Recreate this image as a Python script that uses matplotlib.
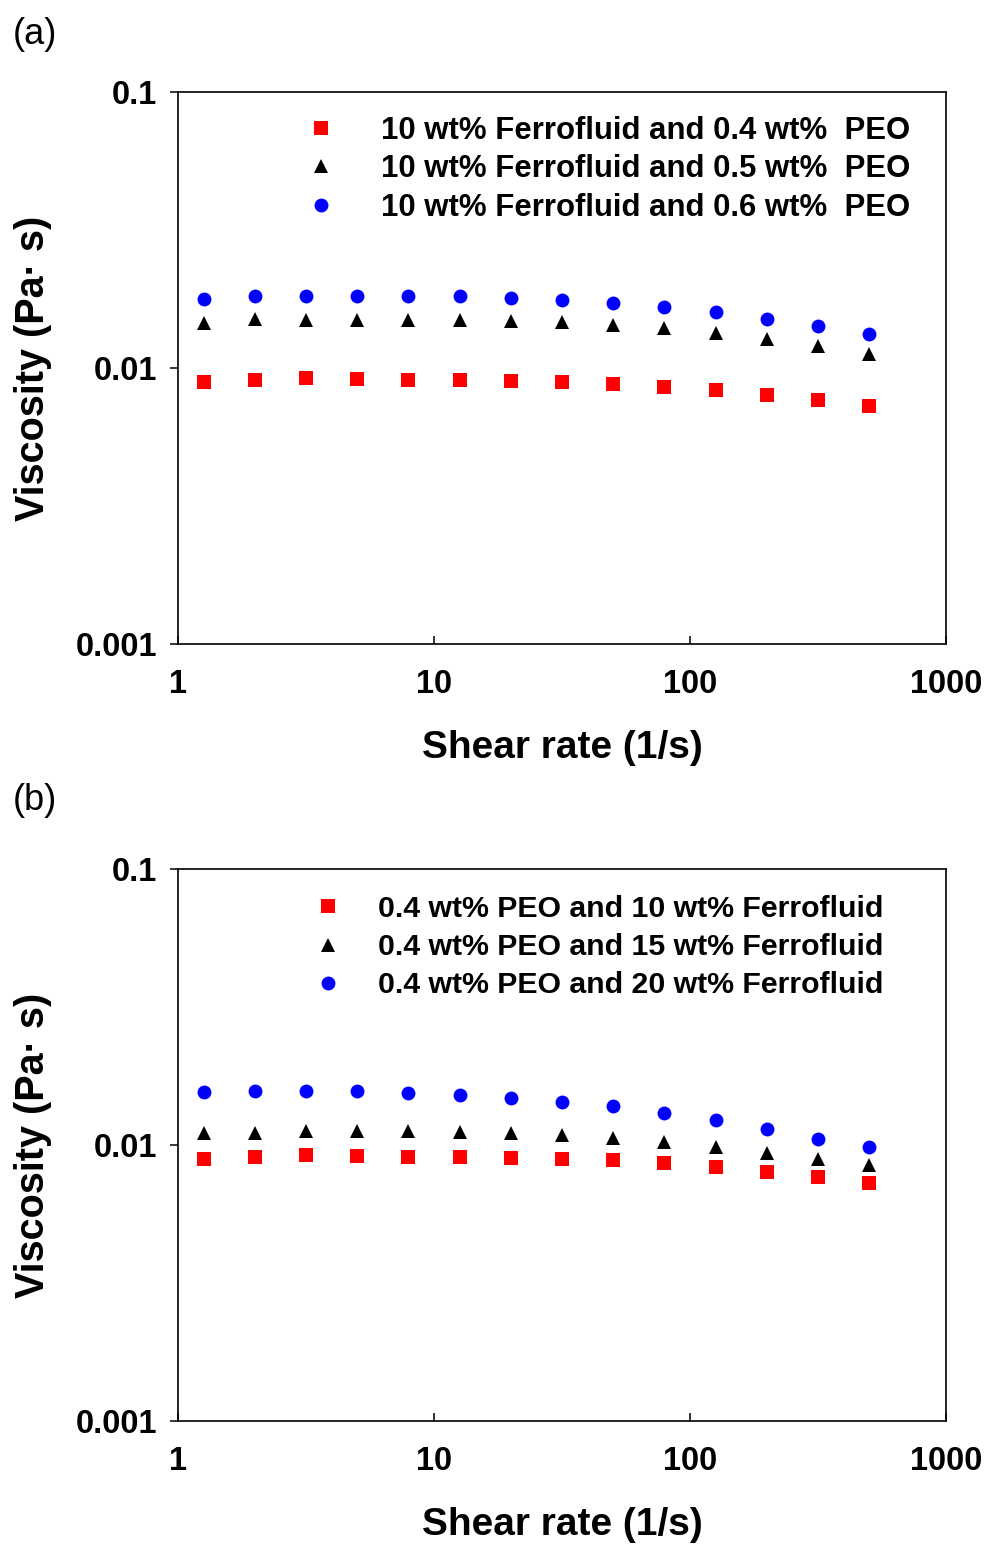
import matplotlib
matplotlib.use("Agg")
import matplotlib.pyplot as plt
from matplotlib.ticker import FixedLocator, FixedFormatter, NullLocator

# ── Data ──────────────────────────────────────────────────────────────────────

shear_rate = [1.26, 2.0, 3.16, 5.01, 7.94, 12.6, 20.0, 31.6, 50.1, 79.4, 126, 200, 316, 501]

# (a) 10 wt% ferrofluid, varying PEO
visc_a_peo04 = [0.00892, 0.00907, 0.00922, 0.00912, 0.00907, 0.00905, 0.00897,
                0.00892, 0.00877, 0.00856, 0.00830, 0.00798, 0.00766, 0.00730]
visc_a_peo05 = [0.01452, 0.01507, 0.01493, 0.01493, 0.01493, 0.01493, 0.01480,
                0.01464, 0.01435, 0.01396, 0.01339, 0.01274, 0.01202, 0.01127]
visc_a_peo06 = [0.01774, 0.01824, 0.01824, 0.01824, 0.01824, 0.01824, 0.01793,
                0.01764, 0.01724, 0.01668, 0.01595, 0.01505, 0.01420, 0.01325]
labels_a = ["10 wt% Ferrofluid and 0.4 wt%  PEO",
            "10 wt% Ferrofluid and 0.5 wt%  PEO",
            "10 wt% Ferrofluid and 0.6 wt%  PEO"]

# (b) 0.4 wt% PEO, varying ferrofluid
visc_b_ff10 = [0.00891, 0.00906, 0.00919, 0.00911, 0.00906, 0.00906, 0.00899,
               0.00891, 0.00879, 0.00857, 0.00831, 0.00797, 0.00767, 0.00729]
visc_b_ff15 = [0.01104, 0.01101, 0.01119, 0.01126, 0.01119, 0.01112, 0.01103,
               0.01084, 0.01058, 0.01021, 0.00979, 0.00934, 0.00888, 0.00844]
visc_b_ff20 = [0.01558, 0.01562, 0.01566, 0.01562, 0.01541, 0.01520, 0.01482,
               0.01434, 0.01379, 0.01308, 0.01234, 0.01145, 0.01053, 0.00979]
labels_b = ["0.4 wt% PEO and 10 wt% Ferrofluid",
            "0.4 wt% PEO and 15 wt% Ferrofluid",
            "0.4 wt% PEO and 20 wt% Ferrofluid"]

x_ticks = [1, 10, 100, 1000]
x_ticklabels = ["1", "10", "100", "1000"]
y_ticks = [0.001, 0.01, 0.1]
y_ticklabels = ["0.001", "0.01", "0.1"]

# ── Style ─────────────────────────────────────────────────────────────────────

plt.rcParams["font.family"] = ["Liberation Sans", "DejaVu Sans"]
plt.rcParams["font.weight"] = "bold"

MARKERS = [("s", "#ff0000", 9.5), ("^", "black", 10.5), ("o", "#0000ff", 10)]


def draw_panel(ax, series, labels, legend_pos, textpad, legend_size, spacing):
    for (m, c, ms), y, lab in zip(MARKERS, series, labels):
        ax.plot(shear_rate, y, linestyle="none", marker=m, color=c,
                markersize=ms, markeredgewidth=0, label=lab)
    ax.set_xscale("log")
    ax.set_yscale("log")
    ax.set_xlim(1, 1000)
    ax.set_ylim(0.001, 0.1)

    ax.xaxis.set_major_locator(FixedLocator(x_ticks))
    ax.xaxis.set_major_formatter(FixedFormatter(x_ticklabels))
    ax.yaxis.set_major_locator(FixedLocator(y_ticks))
    ax.yaxis.set_major_formatter(FixedFormatter(y_ticklabels))
    ax.xaxis.set_minor_locator(NullLocator())
    ax.yaxis.set_minor_locator(NullLocator())

    ax.tick_params(axis="x", direction="in", length=6, width=1.1,
                   pad=18, labelsize=23.5)
    ax.tick_params(axis="y", direction="out", length=6, width=1.1,
                   pad=9, labelsize=23.5)
    for lab in ax.get_xticklabels() + ax.get_yticklabels():
        lab.set_fontweight("bold")
    for sp in ax.spines.values():
        sp.set_linewidth(1.2)

    ax.set_xlabel("Shear rate (1/s)", fontsize=28, fontweight="bold")
    ax.set_ylabel("Viscosity (Pa\u00b7 s)", fontsize=28.5, fontweight="bold")
    ax.xaxis.set_label_coords(0.5, -0.156)
    ax.yaxis.set_label_coords(-0.164, 0.5)

    ax.legend(loc="upper left", bbox_to_anchor=legend_pos,
              frameon=False, handlelength=1.0,
              handletextpad=textpad, labelspacing=spacing, borderpad=0,
              borderaxespad=0, markerscale=1.0, numpoints=1,
              prop={"weight": "bold", "size": legend_size})


fig = plt.figure(figsize=(9.89, 15.44), dpi=100)
ax_a = fig.add_axes([0.180, 0.5829, 0.7765, 0.3575])
ax_b = fig.add_axes([0.180, 0.0797, 0.7765, 0.3575])

draw_panel(ax_a, [visc_a_peo04, visc_a_peo05, visc_a_peo06], labels_a,
           (0.166, 0.957), 1.43, 22.4, 0.27)
draw_panel(ax_b, [visc_b_ff10, visc_b_ff15, visc_b_ff20], labels_b,
           (0.175, 0.953), 1.17, 21.75, 0.34)

fig.text(13 / 989, 1 - 17 / 1544, "(a)", fontsize=26, fontweight="normal",
         ha="left", va="top")
fig.text(13 / 989, 1 - 783 / 1544, "(b)", fontsize=26, fontweight="normal",
         ha="left", va="top")

fig.savefig("out.png", dpi=100)
